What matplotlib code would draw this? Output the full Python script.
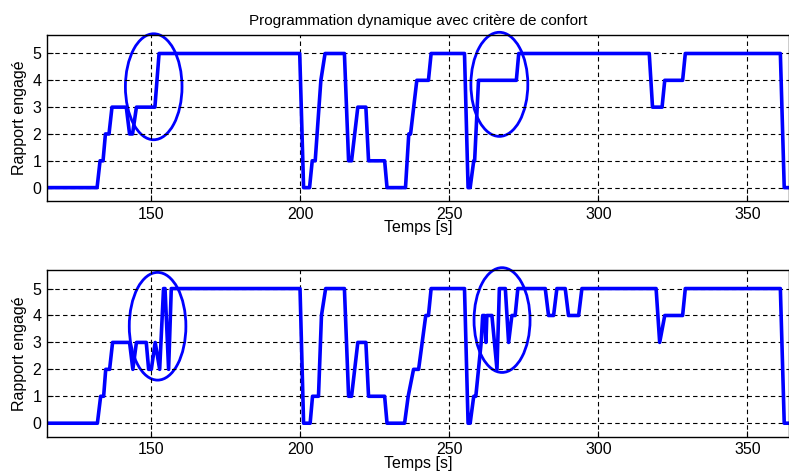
import matplotlib.pyplot as plt
from matplotlib.patches import Ellipse

# gear engaged as (time, gear) vertices
t_top = [115, 131.8, 132.8, 133.8, 134.6, 135.8, 136.8, 141.6, 142.7, 143.7, 145, 151.2,
         152.6, 199.8, 201.1, 203.1, 204, 205, 206.9, 208.3, 214.8, 216.2, 217.2, 219.3,
         222, 222.9, 228.3, 229.1, 235.3, 236.4, 237, 239.1, 243, 243.9, 255.1, 256.3,
         257, 258.2, 258.5, 259.8, 272.5, 273.3, 317.1, 318.2, 321.4, 322.3, 328.3,
         329.2, 361.1, 362.4, 364]
g_top = [0, 0, 1, 1, 2, 2, 3, 3, 2, 2, 3, 3,
         5, 5, 0, 0, 1, 1, 4, 5, 5, 1, 1, 3,
         3, 1, 1, 0, 0, 2, 2, 4, 4, 5, 5, 0,
         0, 1, 1, 4, 4, 5, 5, 3, 3, 4, 4,
         5, 5, 0, 0]

t_bot = [115, 131.9, 133, 134, 134.7, 136, 137, 142.7, 143.8, 145, 148.3, 149.1, 150,
         151.3, 152.8, 154.1, 154.6, 155.8, 156.7, 199.9, 201.1, 203.3, 204.1, 206.1,
         207.1, 208.5, 214.8, 216.2, 217.2, 219.3, 222, 222.9, 228.3, 229.1, 235, 236.2,
         238, 239.7, 242.1, 243, 243.9, 255.1, 256.3, 257, 258.2, 258.9, 260.7, 261.2,
         261.8, 262.3, 262.6, 264.3, 266, 266.8, 268.8, 269.9, 271, 272.1, 273, 282.2,
         283.3, 285, 286.1, 288.9, 290, 293.4, 294.5, 319.4, 320.6, 322.3, 328.3, 329.2,
         361.1, 362.4, 364]
g_bot = [0, 0, 1, 1, 2, 2, 3, 3, 2, 3, 3, 2, 2,
         3, 2, 5, 5, 2, 5, 5, 0, 0, 1, 1,
         4, 5, 5, 1, 1, 3, 3, 1, 1, 0, 0, 1,
         2, 2, 4, 4, 5, 5, 0, 0, 1, 1, 3, 4,
         4, 3, 4, 4, 2, 5, 5, 3, 4, 4, 5, 5,
         4, 4, 5, 5, 4, 4, 5, 5, 3, 4, 4, 5,
         5, 0, 0]

# highlighted zones: (centre time, centre gear, width s, height)
zones_top = [(150.8, 3.76, 19.0, 3.95), (266.8, 3.85, 19.1, 3.88)]
zones_bot = [(152.1, 3.6, 19.0, 4.0), (267.7, 3.83, 18.8, 3.89)]

plt.rcParams['font.family'] = ['Liberation Sans', 'DejaVu Sans']

fig = plt.figure(figsize=(7.89, 4.73), dpi=100)
ax1 = fig.add_axes([0.0596, 0.575, 0.9404, 0.3516])
ax2 = fig.add_axes([0.0596, 0.0768, 0.9404, 0.353])

for ax, t, g, zones in [(ax1, t_top, g_top, zones_top), (ax2, t_bot, g_bot, zones_bot)]:
    ax.plot(t, g, color='#0000ff', lw=2.6)
    for cx, cy, w, h in zones:
        ax.add_patch(Ellipse((cx, cy), w, h, fill=False, edgecolor='#0000ff',
                             lw=2, clip_on=False))
    ax.set_xlim(115, 364)
    ax.set_ylim(-0.5, 5.7)
    ax.set_xticks([150, 200, 250, 300, 350])
    ax.set_yticks([0, 1, 2, 3, 4, 5])
    ax.grid(True, color='black', linestyle=(0, (4, 3)), lw=0.8)
    ax.tick_params(direction='in', labelsize=11.5, length=4, pad=4)
    ax.set_xlabel('Temps [s]', fontsize=11.5, labelpad=-1)
    ax.set_ylabel('Rapport engagé', fontsize=11.5, labelpad=4)
    for s in ax.spines.values():
        s.set_linewidth(1)

ax1.set_title('Programmation dynamique avec critère de confort', fontsize=11, pad=7)

plt.savefig('out.png', dpi=100)
